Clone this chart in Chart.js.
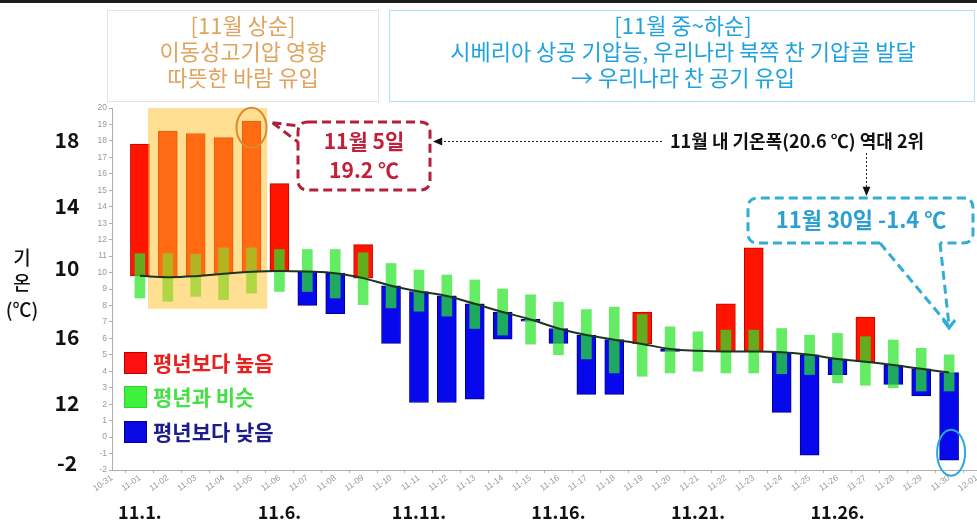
<!DOCTYPE html>
<html>
<head>
<meta charset="utf-8">
<script src="https://cdn.jsdelivr.net/npm/chart.js@4.4.1/dist/chart.umd.min.js"></script>
<style>
  html, body { margin: 0; padding: 0; background: #fff; }
  canvas { display: block; }
</style>
</head>
<body>
<canvas id="c" width="977" height="527"></canvas>
<script>
// x-axis tick labels: 10-31 .. 12-01 (daily)
const tickLabels = ['10-31',
  '11-01','11-02','11-03','11-04','11-05','11-06','11-07','11-08','11-09','11-10',
  '11-11','11-12','11-13','11-14','11-15','11-16','11-17','11-18','11-19','11-20',
  '11-21','11-22','11-23','11-24','11-25','11-26','11-27','11-28','11-29','11-30',
  '12-01'];

// November daily values (Nov 1 .. Nov 30), °C
const normalTemp = [9.8, 9.72, 9.78, 9.92, 10.05, 10.1, 10.06, 9.96, 9.66, 9.2,
  8.85, 8.58, 8.1, 7.6, 7.15, 6.6, 6.2, 5.92, 5.66, 5.36,
  5.25, 5.2, 5.2, 5.15, 5.0, 4.75, 4.58, 4.38, 4.15, 3.92];
const meanTemp = [17.8, 18.6, 18.45, 18.2, 19.2, 15.4, 8.0, 7.5, 11.7, 5.7,
  2.1, 2.1, 2.3, 5.95, 7.05, 5.7, 2.6, 2.6, 7.6, 5.2,
  5.25, 8.1, 11.5, 1.5, -1.1, 3.8, 7.3, 3.2, 2.5, -1.4];
const normalRangeLow = [8.45, 8.25, 8.55, 8.35, 8.75, 8.85, 8.85, 8.45, 8.05, 7.85,
  7.65, 7.35, 6.6, 6.2, 5.65, 5.0, 4.75, 3.9, 3.7, 3.9,
  4.0, 3.9, 3.9, 3.85, 3.8, 3.3, 3.15, 3.0, 2.8, 2.8];
const normalRangeHigh = [11.15, 11.15, 11.1, 11.5, 11.5, 11.4, 11.4, 11.4, 11.2, 10.55,
  10.15, 9.85, 9.55, 9.0, 8.65, 8.2, 7.75, 7.9, 7.45, 6.7,
  6.4, 6.5, 6.5, 6.6, 6.2, 6.3, 6.1, 5.9, 5.4, 5.0];

const yMin = -2, yMax = 20;
const legendLabels = ['평년보다 높음', '평년과 비슷', '평년보다 낮음'];
const periodLabels = ['11.1.', '11.6.', '11.11.', '11.16.', '11.21.', '11.26.'];
const periodDays = [1, 6, 11, 16, 21, 26];
const sideLabels = ['18', '14', '10', '16', '12', '-2'];
const earlyTitle = ['[11월 상순]', '이동성고기압 영향', '따뜻한 바람 유입'];
const lateTitle = ['[11월 중~하순]', '시베리아 상공 기압능, 우리나라 북쪽 찬 기압골 발달', '→ 우리나라 찬 공기 유입'];
const maxNote = ['11월 5일', '19.2 ℃'];
const minNote = '11월 30일 -1.4 ℃';
const rangeNote = '11월 내 기온폭(20.6 ℃) 역대 2위';

// category index 1..30 = Nov 1..30, padded for 10-31 and 12-01
const pad = arr => [null, ...arr, null];
const aboveBars = pad(meanTemp.map((m, i) => m > normalTemp[i] ? [normalTemp[i], m] : null));
const belowBars = pad(meanTemp.map((m, i) => m < normalTemp[i] ? [m, normalTemp[i]] : null));
const rangeBars = pad(normalRangeLow.map((l, i) => [l, normalRangeHigh[i]]));
const normalLine = pad(normalTemp);

const KR = '"Noto Sans CJK KR", "Noto Sans", sans-serif';

function roundRectPath(ctx, x, y, w, h, r) {
  ctx.beginPath();
  ctx.moveTo(x + r, y);
  ctx.lineTo(x + w - r, y);
  ctx.quadraticCurveTo(x + w, y, x + w, y + r);
  ctx.lineTo(x + w, y + h - r);
  ctx.quadraticCurveTo(x + w, y + h, x + w - r, y + h);
  ctx.lineTo(x + r, y + h);
  ctx.quadraticCurveTo(x, y + h, x, y + h - r);
  ctx.lineTo(x, y + r);
  ctx.quadraticCurveTo(x, y, x + r, y);
  ctx.closePath();
}

function arrowHead(ctx, x, y, ang, len, color) {
  ctx.save();
  ctx.fillStyle = color;
  ctx.setLineDash([]);
  ctx.beginPath();
  ctx.moveTo(x, y);
  ctx.lineTo(x - len * Math.cos(ang - 0.4), y - len * Math.sin(ang - 0.4));
  ctx.lineTo(x - len * Math.cos(ang + 0.4), y - len * Math.sin(ang + 0.4));
  ctx.closePath();
  ctx.fill();
  ctx.restore();
}

function text(ctx, str, x, y, font, color, align) {
  ctx.font = font;
  ctx.fillStyle = color;
  ctx.textAlign = align || 'center';
  ctx.textBaseline = 'middle';
  ctx.fillText(str, x, y);
}

const decorations = {
  id: 'decorations',
  beforeDatasetDraw(chart, args) {
    // warm-period shading, drawn over the bars but under the normal line
    if (args.index !== 3) return;
    const { ctx, scales: { x, y } } = chart;
    const x0 = x.getPixelForValue(1.29), x1 = x.getPixelForValue(5.56);
    const y0 = y.getPixelForValue(20), y1 = y.getPixelForValue(7.8);
    ctx.save();
    ctx.fillStyle = 'rgba(255,192,36,0.5)';
    ctx.fillRect(x0, y0, x1 - x0, y1 - y0);
    ctx.restore();
  },
  afterDraw(chart) {
    const { ctx, scales: { x, y } } = chart;
    ctx.save();

    // top rule
    ctx.fillStyle = '#1c1c1c';
    ctx.fillRect(0, 0, 977, 3);

    // period description boxes
    ctx.setLineDash([1, 1]);
    ctx.lineWidth = 1;
    ctx.strokeStyle = '#d6c7a4';
    ctx.strokeRect(107.5, 10.5, 271, 91);
    ctx.strokeStyle = '#62c3ea';
    ctx.strokeRect(389.5, 10.5, 585, 91);
    ctx.setLineDash([]);
    const tf = '400 22px ' + KR;
    earlyTitle.forEach((s, i) => text(ctx, s, 243, 26 + i * 26, tf, '#e0a45e'));
    lateTitle.forEach((s, i) => text(ctx, s, 683, 26 + i * 26, tf, '#1fa3e0'));

    // y-axis title
    const af = '500 19px ' + KR;
    text(ctx, '기', 22, 258, af, '#111');
    text(ctx, '온', 22, 283, af, '#111');
    text(ctx, '(℃)', 22, 310, af, '#111');

    // large side numbers
    const sy = [140, 206, 268, 337, 403, 463];
    sideLabels.forEach((s, i) => text(ctx, s, 67, sy[i], 'bold 21px ' + KR, '#111'));

    // period labels under the axis
    periodLabels.forEach((s, i) =>
      text(ctx, s, x.getPixelForValue(periodDays[i]), 512, 'bold 18px ' + KR, '#111'));

    // legend
    ctx.fillStyle = '#fff';
    ctx.fillRect(118, 346, 180, 102);
    const lc = [['#ff1010', '#c00000', '#e8201e'], ['#3ff03f', '#2fd02f', '#45e045'], ['#0a0ae6', '#00008a', '#1c1c8c']];
    const ly = [363, 397, 432];
    legendLabels.forEach((s, i) => {
      ctx.fillStyle = lc[i][0];
      ctx.fillRect(124, ly[i] - 11, 23, 22);
      ctx.strokeStyle = lc[i][1];
      ctx.lineWidth = 1;
      ctx.strokeRect(124.5, ly[i] - 10.5, 22, 21);
      text(ctx, s, 153, ly[i], 'bold 21px ' + KR, lc[i][2], 'left');
    });

    // highlight ellipses on the extreme days
    const ex5 = x.getPixelForValue(5), ey5 = y.getPixelForValue(18.8);
    ctx.strokeStyle = '#db8a2e';
    ctx.lineWidth = 2;
    ctx.beginPath();
    ctx.ellipse(ex5, ey5, 15, 20, 0, 0, Math.PI * 2);
    ctx.stroke();
    const ex30 = x.getPixelForValue(30), ey30 = y.getPixelForValue(-0.95);
    ctx.strokeStyle = '#2aa8e0';
    ctx.beginPath();
    ctx.ellipse(ex30 + 2, ey30, 14, 23, 0, 0, Math.PI * 2);
    ctx.stroke();

    // warm-day callout
    ctx.strokeStyle = '#b3203a';
    ctx.lineWidth = 3;
    ctx.setLineDash([9, 5]);
    roundRectPath(ctx, 298, 122, 132, 68, 10);
    ctx.stroke();
    ctx.beginPath();
    ctx.moveTo(ex5 + 21, ey5 - 5);
    ctx.lineTo(298, 142);
    ctx.moveTo(ex5 + 21, ey5 - 5);
    ctx.lineTo(300, 126);
    ctx.stroke();
    ctx.setLineDash([]);
    text(ctx, maxNote[0], 364, 141, 'bold 21px ' + KR, '#c21f38');
    text(ctx, maxNote[1], 364, 170, 'bold 21px ' + KR, '#c21f38');

    // range note with dotted arrows
    ctx.strokeStyle = '#222';
    ctx.lineWidth = 1;
    ctx.setLineDash([2, 2]);
    ctx.beginPath();
    ctx.moveTo(662, 141.5);
    ctx.lineTo(440, 141.5);
    ctx.moveTo(866.5, 153);
    ctx.lineTo(866.5, 188);
    ctx.stroke();
    ctx.setLineDash([]);
    arrowHead(ctx, 433, 141.5, Math.PI, 10, '#111');
    arrowHead(ctx, 866.5, 196, Math.PI / 2, 10, '#111');
    text(ctx, rangeNote, 670, 141, 'bold 18px ' + KR, '#111', 'left');

    // cold-day callout
    ctx.strokeStyle = '#33acd6';
    ctx.lineWidth = 3;
    ctx.setLineDash([9, 5]);
    ctx.beginPath();
    ctx.moveTo(880, 243);
    ctx.lineTo(758, 243);
    ctx.quadraticCurveTo(748, 243, 748, 233);
    ctx.lineTo(748, 208);
    ctx.quadraticCurveTo(748, 198, 758, 198);
    ctx.lineTo(963, 198);
    ctx.quadraticCurveTo(973, 198, 973, 208);
    ctx.lineTo(973, 233);
    ctx.quadraticCurveTo(973, 243, 963, 243);
    ctx.lineTo(940, 243);
    ctx.stroke();
    const tipX = ex30, tipY = 326;
    ctx.beginPath();
    ctx.moveTo(880, 243);
    ctx.lineTo(tipX, tipY);
    ctx.moveTo(940, 243);
    ctx.lineTo(tipX, tipY);
    ctx.stroke();
    ctx.setLineDash([]);
    ctx.beginPath();
    ctx.moveTo(tipX - 6, tipY - 6);
    ctx.lineTo(tipX, tipY + 2);
    ctx.lineTo(tipX + 6, tipY - 6);
    ctx.stroke();
    text(ctx, minNote, 861, 220, 'bold 22px ' + KR, '#2a9fd2');

    ctx.restore();
  }
};

Chart.defaults.font.family = '"Liberation Sans", Arial, sans-serif';

new Chart(document.getElementById('c'), {
  data: {
    labels: tickLabels,
    datasets: [
      { type: 'bar', label: legendLabels[0], data: aboveBars, order: 3, grouped: false,
        barThickness: 19, backgroundColor: '#ff1400', borderColor: '#c40000', borderWidth: 1, borderSkipped: false },
      { type: 'bar', label: legendLabels[2], data: belowBars, order: 3, grouped: false,
        barThickness: 19, backgroundColor: '#0808ec', borderColor: '#00008c', borderWidth: 1, borderSkipped: false },
      { type: 'bar', label: legendLabels[1], data: rangeBars, order: 2, grouped: false,
        barThickness: 10, backgroundColor: 'rgba(40,230,40,0.72)', borderWidth: 0 },
      { type: 'line', label: '평년', data: normalLine, order: 1,
        borderColor: '#1d3520', borderWidth: 2, tension: 0.4, pointRadius: 0, fill: false }
    ]
  },
  options: {
    responsive: false,
    animation: false,
    devicePixelRatio: 1,
    layout: { padding: { left: 80, top: 108, right: 0, bottom: 31 } },
    plugins: { legend: { display: false }, tooltip: { enabled: false } },
    scales: {
      x: {
        type: 'category',
        offset: false,
        grid: { drawOnChartArea: false, drawTicks: true, tickLength: 3, color: '#b0b0b0' },
        border: { color: '#b0b0b0' },
        ticks: { color: '#9a9a9a', font: { size: 8.5 }, minRotation: 35, maxRotation: 35, autoSkip: false, padding: 0 },
        afterFit(s) { s.height = 26; s.paddingLeft = 0; s.paddingRight = 0; }
      },
      y: {
        min: yMin, max: yMax,
        grid: { drawOnChartArea: false, drawTicks: true, tickLength: 3, color: '#b0b0b0' },
        border: { color: '#b0b0b0' },
        ticks: { stepSize: 1, color: '#9a9a9a', font: { size: 8.5 }, padding: 2, autoSkip: false },
        afterFit(s) { s.width = 32; }
      }
    }
  },
  plugins: [decorations]
});
</script>
</body>
</html>
